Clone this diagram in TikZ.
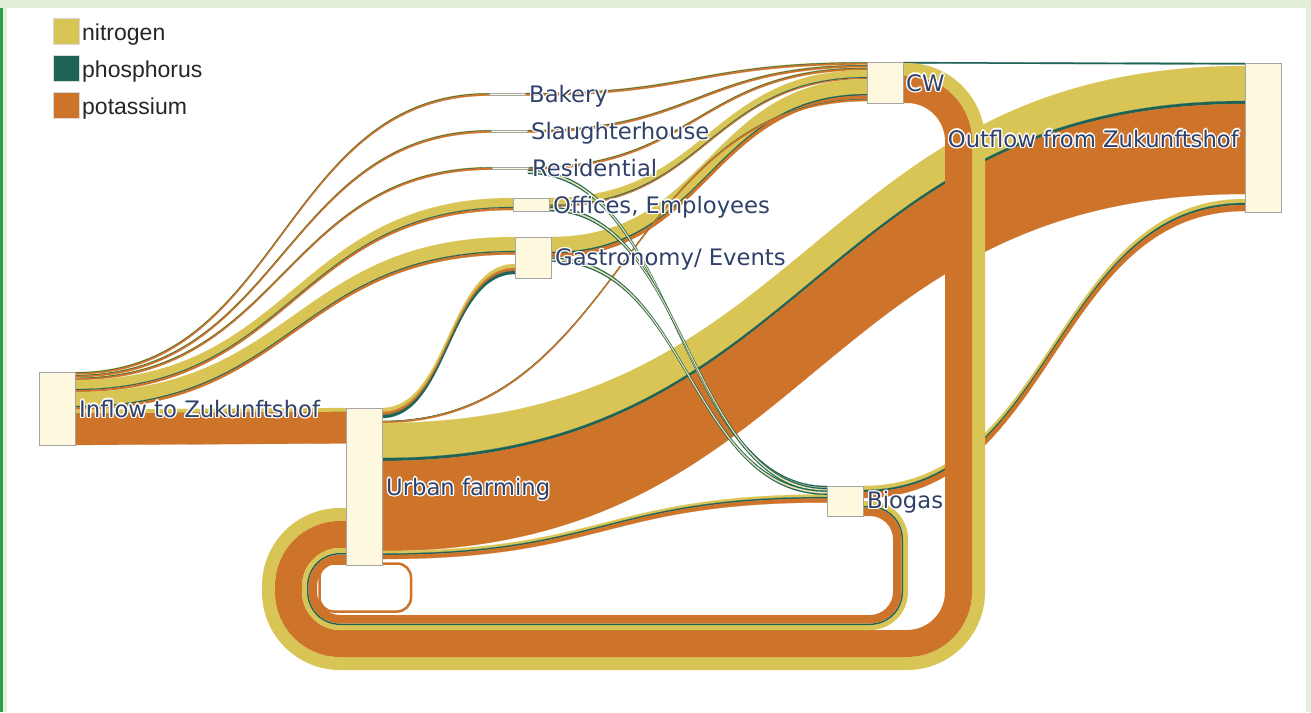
\documentclass[tikz,border=0pt]{standalone}
\usepackage{fontspec}
\setmainfont{DejaVu Sans}
\newfontfamily\legendfont{Liberation Sans}
\usetikzlibrary{calc}

\definecolor{nitro}{RGB}{217,197,86}
\definecolor{phos}{RGB}{30,100,86}
\definecolor{pota}{RGB}{205,115,42}
\definecolor{nodefill}{RGB}{254,248,222}
\definecolor{nodeline}{RGB}{165,165,165}
\definecolor{lblcol}{RGB}{48,66,105}
\definecolor{framegreen}{RGB}{226,240,217}
\definecolor{edgegreen}{RGB}{40,160,80}

\pgfdeclarelayer{frame}
\pgfdeclarelayer{links}
\pgfsetlayers{frame,links,main}

\tikzset{
  nd/.style={draw=nodeline, fill=nodefill, line width=0.8pt, minimum width=36pt,
    inner sep=0pt, outer sep=0pt, anchor=north west},
  lbl/.style={text=lblcol, font=\fontsize{22.7}{24}\selectfont, inner sep=0pt},
  legbox/.style={draw=black!15, line width=0.6pt, minimum size=26pt, inner sep=0pt,
    outer sep=0pt, anchor=north west},
  legtxt/.style={font=\legendfont\fontsize{23}{25}\selectfont, text=black!85,
    inner sep=0pt, anchor=base west},
}

% one band: colour, source, offset, target, offset, width
\newcommand\flow[6]{%
  \path ($(#2.north east)+(0,{#3})$) coordinate (s1)
        ($(#2.north east)+(0,{#3+#6})$) coordinate (s2)
        ($(#4.north west)+(0,{#5})$) coordinate (t1)
        ($(#4.north west)+(0,{#5+#6})$) coordinate (t2)
        ($(s1)!.5!(t1)$) coordinate (m);
  \filldraw[#1, line width=.2pt] (s1) .. controls (m |- s1) and (m |- t1) .. (t1)
    -- (t2) .. controls (m |- t2) and (m |- s2) .. (s2) -- cycle;}
% nitrogen, phosphorus, potassium stacked
\newcommand\npk[7]{%
  \flow{nitro}{#1}{#2}{#3}{#4}{#5}
  \flow{phos}{#1}{#2+#5}{#3}{#4+#5}{#6}
  \flow{pota}{#1}{#2+#5+#6}{#3}{#4+#5+#6}{#7}}
% thin phosphorus line with pale core
\newcommand\pline[4]{%
  \flow{phos}{#1}{#2}{#3}{#4}{4.2}
  \flow{nitro!45!white}{#1}{#2+1.4}{#3}{#4+1.4}{1.4}}
% label with white halo
\newcommand\halolabel[6]{%
  \foreach \hx/\hy in {1.4/0,-1.4/0,0/1.4,0/-1.4,1/1,-1/1,1/-1,-1/-1}
    \node[lbl, text=white, anchor=#5] at ($(#2)+({#3+(\hx)},{#4+(\hy)})$) {#6};
  \node[lbl, anchor=#5] (#1) at ($(#2)+(#3,#4)$) {#6};}

\begin{document}
\begin{tikzpicture}[x=1pt, y=-1pt]
\useasboundingbox (0,0) rectangle (1311,712);

\begin{pgfonlayer}{frame}
  \fill[white] (0,0) rectangle (1311,712);
  \fill[framegreen] (0,0) rectangle (1311,8);
  \fill[framegreen] (0,0) rectangle (7,712);
  \fill[edgegreen] (0,8) rectangle (2.5,712);
  \fill[framegreen] (1306,0) rectangle (1311,712);
\end{pgfonlayer}

% nodes
\node[nd, minimum height=73pt] (infl) at (39,372) {};
\node[nd, minimum height=157pt] (uf) at (346,408) {};
\node[nd, minimum height=2pt] (bak) at (489,93) {};
\node[nd, minimum height=2pt] (sla) at (491,130) {};
\node[nd, minimum height=2pt] (res) at (492,167) {};
\node[nd, minimum height=13pt] (off) at (513,198) {};
\node[nd, minimum height=41pt] (gas) at (515,237) {};
\node[nd, minimum height=41pt] (cw) at (867,62) {};
\node[nd, minimum height=30pt] (bio) at (827,486) {};
\node[nd, minimum height=149pt] (outf) at (1245,63) {};

\begin{pgfonlayer}{links}
  % from the inflow
  \npk{infl}{0}{bak}{0}{.5}{.6}{1.6}
  \npk{infl}{2.7}{sla}{0}{.5}{.6}{1.6}
  \npk{infl}{5.4}{res}{0}{.5}{.6}{1.6}
  \npk{infl}{8.1}{off}{0}{9}{1}{2}
  \npk{infl}{20.1}{gas}{0}{14}{1.2}{2.3}
  \npk{infl}{37.6}{uf}{0}{4}{0}{31.4}
  % into CW
  \npk{bak}{0}{cw}{0}{.5}{.6}{1.6}
  \npk{sla}{0}{cw}{2.7}{.5}{.6}{1.6}
  \npk{res}{0}{cw}{5.4}{.5}{.6}{1.6}
  \npk{off}{0}{cw}{8.1}{7}{1}{1}
  \npk{gas}{0}{cw}{17.1}{15}{1.5}{3.5}
  \npk{uf}{13}{cw}{37.1}{0}{.4}{1.6}
  % out of urban farming
  \flow{nitro}{uf}{0}{gas}{27}{4}
  \flow{pota}{uf}{4}{gas}{31}{3}
  \flow{phos}{uf}{7}{gas}{34}{3}
  \npk{uf}{15}{outf}{3}{35}{3}{90}
  \npk{uf}{143}{bio}{8.5}{2.5}{1.5}{4}
  % to the outflow
  \npk{bio}{0}{outf}{136}{4}{2}{6}
  \flow{phos}{cw}{0}{outf}{0}{1.5}
  % phosphorus to biogas
  \pline{res}{2.7}{bio}{0}
  \pline{off}{9}{bio}{2}
  \pline{gas}{20.5}{bio}{4.6}
  % CW back to urban farming
  \draw[nitro, line width=13pt, rounded corners=71.5pt]
    ($(cw.north east)+(0,7.5)$) -| (978.5,663.5) -| ($(uf.north west)+(-77.5,106.5)$)
    -- ($(uf.north west)+(0,106.5)$);
  \draw[pota, line width=27pt, rounded corners=51.5pt]
    ($(cw.north east)+(0,27.5)$) -| (958.5,643.5) -| ($(uf.north west)+(-57.5,126.5)$)
    -- ($(uf.north west)+(0,126.5)$);
  % biogas back to urban farming
  \draw[nitro, line width=5pt, rounded corners=35.5pt]
    ($(bio.north east)+(0,17.5)$) -| (905.5,627.5) -| ($(uf.north west)+(-41.5,142.5)$)
    -- ($(uf.north west)+(0,142.5)$);
  \draw[phos, line width=1.5pt, rounded corners=32.25pt]
    ($(bio.north east)+(0,20.75)$) -| (902.25,624.25) -| ($(uf.north west)+(-38.25,145.75)$)
    -- ($(uf.north west)+(0,145.75)$);
  \draw[pota, line width=8.5pt, rounded corners=27.25pt]
    ($(bio.north east)+(0,25.75)$) -| (897.25,619.25) -| ($(uf.north west)+(-33.25,150.75)$)
    -- ($(uf.north west)+(0,150.75)$);
  % urban farming to itself
  \draw[pota, line width=2.5pt, rounded corners=14pt]
    ($(uf.north east)+(0,155.5)$) -| (411,611.5) -| ($(uf.north west)+(-26.5,155.5)$)
    -- ($(uf.north west)+(0,155.5)$);
\end{pgfonlayer}

% labels
\halolabel{infl-l}{infl.east}{4}{8.5}{base west}{Inflow to Zukunftshof}
\halolabel{uf-l}{uf.east}{4}{8.5}{base west}{Urban farming}
\halolabel{bak-l}{bak.east}{4}{8.5}{base west}{Bakery}
\halolabel{sla-l}{sla.east}{4}{8.5}{base west}{Slaughterhouse}
\halolabel{res-l}{res.east}{4}{8.5}{base west}{Residential}
\halolabel{off-l}{off.east}{4}{8.5}{base west}{Offices, Employees}
\halolabel{gas-l}{gas.east}{4}{8}{base west}{Gastronomy/ Events}
\halolabel{cw-l}{cw.east}{3}{8.5}{base west}{CW}
\halolabel{bio-l}{bio.east}{4}{7.5}{base west}{Biogas}
\halolabel{outf-l}{outf.west}{-6}{9.5}{base east}{Outflow from Zukunftshof}

% legend
\node[legbox, fill=nitro] (lg-n) at (53,18) {};
\node[legbox, fill=phos] (lg-p) at (53,55) {};
\node[legbox, fill=pota] (lg-k) at (53,92) {};
\node[legtxt] (lg-nt) at ($(lg-n.east)+(3,9)$) {nitrogen};
\node[legtxt] (lg-pt) at ($(lg-p.east)+(3,9)$) {phosphorus};
\node[legtxt] (lg-kt) at ($(lg-k.east)+(3,9)$) {potassium};
\end{tikzpicture}
\end{document}
